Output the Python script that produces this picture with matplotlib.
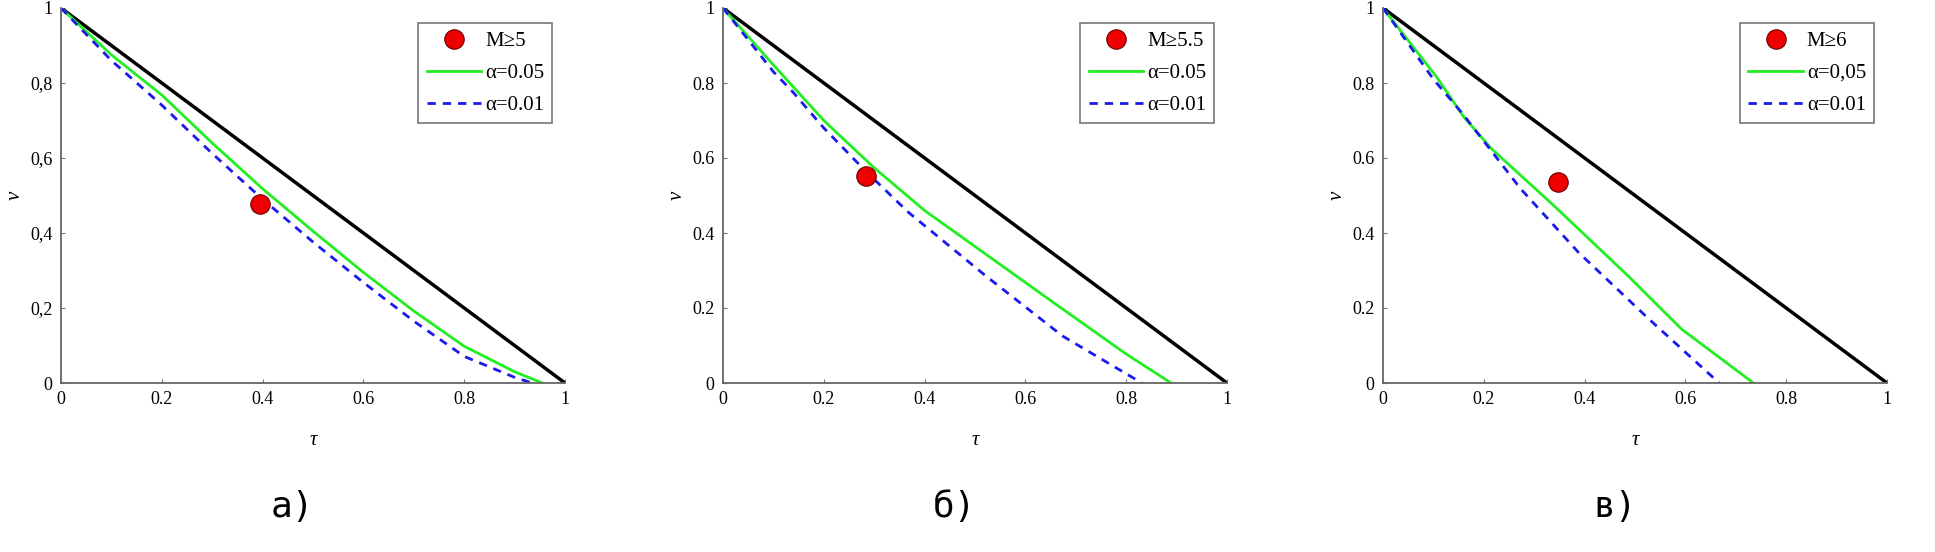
import matplotlib.pyplot as plt

# figure a) M>=5
tau_a05 = [0, 0.1, 0.2, 0.3, 0.4, 0.5, 0.6, 0.7, 0.8, 0.9, 0.955]
nu_a05 = [1, 0.875, 0.768, 0.64, 0.518, 0.405, 0.295, 0.192, 0.098, 0.03, 0]
tau_a01 = [0, 0.1, 0.2, 0.3, 0.4, 0.5, 0.6, 0.7, 0.8, 0.9, 0.935]
nu_a01 = [1, 0.86, 0.741, 0.612, 0.49, 0.376, 0.268, 0.165, 0.071, 0.015, 0]
point_a = (0.395, 0.478)

# figure б) M>=5.5
tau_b05 = [0, 0.1, 0.2, 0.299, 0.4, 0.498, 0.651, 0.797, 0.889]
nu_b05 = [1, 0.848, 0.70, 0.575, 0.46, 0.366, 0.219, 0.08, 0]
tau_b01 = [0, 0.1, 0.138, 0.2, 0.283, 0.368, 0.521, 0.674, 0.831]
nu_b01 = [1, 0.83, 0.777, 0.68, 0.565, 0.455, 0.286, 0.125, 0]
point_b = (0.283, 0.553)

# figure в) M>=6
tau_c05 = [0, 0.108, 0.16, 0.215, 0.339, 0.486, 0.593, 0.735]
nu_c05 = [1, 0.813, 0.71, 0.625, 0.473, 0.286, 0.143, 0]
tau_c01 = [0, 0.1, 0.158, 0.273, 0.388, 0.528, 0.667]
nu_c01 = [1, 0.81, 0.718, 0.518, 0.348, 0.170, 0]
point_c = (0.347, 0.536)

panels = [
    (tau_a05, nu_a05, tau_a01, nu_a01, point_a, "M≥5", "α=0.05", "α=0.01", "а)", True),
    (tau_b05, nu_b05, tau_b01, nu_b01, point_b, "M≥5.5", "α=0.05", "α=0.01", "б)", False),
    (tau_c05, nu_c05, tau_c01, nu_c01, point_c, "M≥6", "α=0,05", "α=0.01", "в)", False),
]
ticks = [0, 0.2, 0.4, 0.6, 0.8, 1]
tick_labels = ["0", "0.2", "0.4", "0.6", "0.8", "1"]
tick_labels_comma = ["0", "0,2", "0,4", "0,6", "0,8", "1"]

lefts = [61, 723, 1383]

fig = plt.figure(figsize=(19.35, 5.52), dpi=100)
serif = "Liberation Serif"

for (t05, n05, t01, n01, pt, mlab, l05, l01, sub, comma), lx in zip(panels, lefts):
    ax = fig.add_axes([lx / 1935, 1 - 383 / 552, 504 / 1935, 375 / 552])
    ax.plot([0, 1], [1, 0], color="black", lw=2.5)
    ax.plot(pt[0], pt[1], "o", color="#ee0000", mec="#660000", mew=0.8, ms=14, label=mlab, zorder=5)
    ax.plot(t05, n05, color="#22ee22", lw=2, label=l05)
    ax.plot(t01, n01, color="#1a1aee", lw=2, ls=(0, (3, 2.5)), label=l01)
    ax.set_xlim(0, 1)
    ax.set_ylim(0, 1)
    ax.set_xticks(ticks)
    ax.set_xticklabels(tick_labels, fontfamily=serif, fontsize=13)
    ax.set_yticks(ticks)
    ax.set_yticklabels(tick_labels_comma if comma else tick_labels, fontfamily=serif, fontsize=13)
    ax.tick_params(direction="in", length=3, color="#777777", pad=6)
    for s in ["top", "right"]:
        ax.spines[s].set_visible(False)
    for s in ["left", "bottom"]:
        ax.spines[s].set_color("#666666")
        ax.spines[s].set_linewidth(1.3)
    ax.set_xlabel("τ", fontfamily=serif, fontsize=15, style="italic", labelpad=16)
    ax.set_ylabel("ν", fontfamily=serif, fontsize=15, style="italic", labelpad=4)
    leg = ax.legend(loc="upper right", bbox_to_anchor=(0.975, 0.96), prop={"family": serif, "size": 15},
                    fancybox=False, framealpha=1, edgecolor="#777777", handlelength=2.6,
                    handletextpad=0.2, labelspacing=0.6, borderpad=0.4, borderaxespad=0)
    leg.get_frame().set_linewidth(1.2)
    ax.text(0.46, -0.33, sub, transform=ax.transAxes, ha="center", va="center",
            fontfamily="DejaVu Sans Mono", fontsize=26)

fig.savefig("out.png", dpi=100)
